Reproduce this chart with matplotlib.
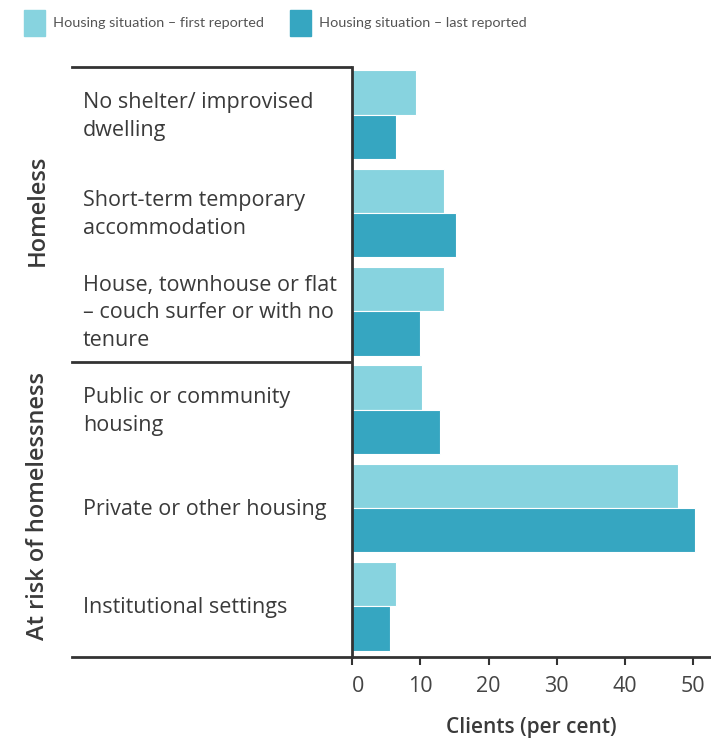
import matplotlib.pyplot as plt
import numpy as np
from matplotlib.patches import Patch

# data
categories = ['No shelter/ improvised\ndwelling',
              'Short-term temporary\naccommodation',
              'House, townhouse or flat\n– couch surfer or with no\ntenure',
              'Public or community\nhousing',
              'Private or other housing',
              'Institutional settings']
first_reported = [9.4, 13.5, 13.5, 10.2, 47.7, 6.4]
last_reported = [6.4, 15.2, 9.9, 12.9, 50.3, 5.6]
groups = ['Homeless', 'At risk of homelessness']
group_centres = [1, 4]
xticks = [0, 10, 20, 30, 40, 50]

light = '#87D3DF'
dark = '#36A6C1'
line_col = '#333333'
txt_col = '#3a3a3a'

plt.rcParams['font.family'] = ['Open Sans', 'DejaVu Sans']

fig = plt.figure(figsize=(7.11, 7.38), dpi=100)
ax = fig.add_axes([352/711, 81/738, 359/711, 590/738])

y = np.arange(len(categories))
h = 0.45
ax.barh(y - h/2 - 0.015, first_reported, height=h, color=light, edgecolor='white', linewidth=0.8,
        label='Housing situation – first reported')
ax.barh(y + h/2 - 0.015, last_reported, height=h, color=dark, edgecolor='white', linewidth=0.8,
        label='Housing situation – last reported')

ax.set_ylim(5.5, -0.5)
ax.set_xlim(0, 52.6)
ax.set_yticks([])
ax.set_xticks(xticks)
ax.set_xticklabels([str(t) for t in xticks], fontsize=15.5, color='#444444')
ax.get_xticklabels()[0].set_horizontalalignment('left')
ax.tick_params(axis='x', length=6, width=1.5, color=line_col, pad=8)

for s in ['top', 'right']:
    ax.spines[s].set_visible(False)
for s in ['left', 'bottom']:
    ax.spines[s].set_color(line_col)
    ax.spines[s].set_linewidth(2)

ax.set_xlabel('Clients (per cent)', fontsize=15, fontweight='semibold', color=txt_col, labelpad=14)

# left-hand table lines
tr = ax.get_yaxis_transform()
for yy in [-0.5, 2.5, 5.5]:
    ax.plot([-0.78, -0.005], [yy, yy], color=line_col, lw=2, transform=tr, clip_on=False)

for i, c in enumerate(categories):
    ax.text(-0.749, i, c, transform=tr, ha='left', va='center', fontsize=15.5,
            color=txt_col, linespacing=1.42)

for g, gc in zip(groups, group_centres):
    ax.text(-0.875, gc - 0.04, g, transform=tr, ha='center', va='center', rotation=90,
            fontsize=17, fontweight='semibold', color=txt_col)

handles = [Patch(color=light), Patch(color=dark)]
fig.legend(handles, ['Housing situation – first reported', 'Housing situation – last reported'],
           loc='upper left', bbox_to_anchor=(24/711, 1 - 10/738), ncol=2, frameon=False,
           prop={'family': ['Lato', 'DejaVu Sans'], 'size': 10.4},
           handlelength=1.45, handleheight=2.4, handletextpad=0.55,
           columnspacing=1.8, borderpad=0, borderaxespad=0, labelcolor='#555555')

fig.savefig('out.png', dpi=100)
